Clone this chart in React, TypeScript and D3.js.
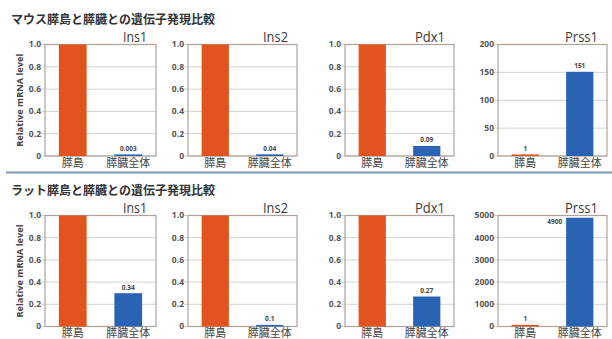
import React from "react";
import * as d3 from "d3";

const genes = ["Ins1", "Ins2", "Pdx1", "Prss1"];
const categories = ["膵島", "膵臓全体"];

const mouseTitle = "マウス膵島と膵臓との遺伝子発現比較";
const mouseIslet = [1, 1, 1, 1];
const mouseWhole = [0.003, 0.015, 0.09, 151];
const mouseIsletLabels = ["", "", "", "1"];
const mouseWholeLabels = ["0.003", "0.04", "0.09", "151"];
const mouseYMax = [1, 1, 1, 200];
const mouseTicks = [
  [0, 0.2, 0.4, 0.6, 0.8, 1.0],
  [0, 0.2, 0.4, 0.6, 0.8, 1.0],
  [0, 0.2, 0.4, 0.6, 0.8, 1.0],
  [0, 50, 100, 150, 200],
];

const ratTitle = "ラット膵島と膵臓との遺伝子発現比較";
const ratIslet = [1, 1, 1, 1];
const ratWhole = [0.3, 0.012, 0.27, 4900];
const ratIsletLabels = ["", "", "", "1"];
const ratWholeLabels = ["0.34", "0.1", "0.27", "4900"];
const ratYMax = [1, 1, 1, 5000];
const ratTicks = [
  [0, 0.2, 0.4, 0.6, 0.8, 1.0],
  [0, 0.2, 0.4, 0.6, 0.8, 1.0],
  [0, 0.2, 0.4, 0.6, 0.8, 1.0],
  [0, 1000, 2000, 3000, 4000, 5000],
];

const yAxisTitle = "Relative mRNA level";

// layout
const W = 612;
const H = 339;
const panelX = [
  [45, 156],
  [188, 297],
  [345, 454],
  [498, 607],
];
const RED = "#e1541f";
const BLUE = "#2a63b3";
const GRID = "#d9d2cc";
const BORDER = "#ada199";
const TEXT = "#3a3a3a";
const JP = "'Noto Sans CJK JP', 'Noto Sans', sans-serif";
const SANS = "'Open Sans', 'Noto Sans', sans-serif";
const geneTextLen = [24, 25, 30, 33];

function Panel({
  x0, x1, yTop, yBottom, islet, whole, isletLabel, wholeLabel, yMax, ticks, gene, geneLen, showYTitle,
}: any) {
  const x = d3.scaleBand<string>().domain(categories).range([x0, x1]).paddingInner(0.5).paddingOuter(0.25);
  const y = d3.scaleLinear().domain([0, yMax]).range([yBottom, yTop]);
  const isDecimal = yMax <= 1;
  const fmt = (t: number) => (isDecimal ? (t === 0 ? "0" : d3.format(".1f")(t)) : String(t));
  const vals = [islet, whole];
  const labs = [isletLabel, wholeLabel];
  const colors = [RED, BLUE];
  const minH = 1.6;
  return (
    <g>
      {ticks.map((t: number, i: number) => (
        <g key={i}>
          <line x1={x0 - 4} x2={x1} y1={y(t)} y2={y(t)} stroke={GRID} strokeWidth={1} />
          <text x={x0 - 4} y={y(t)} dy="0.35em" textAnchor="end" fontFamily={SANS} fontWeight={700} fontSize={8.5} fill="#555">
            {fmt(t)}
          </text>
        </g>
      ))}
      <rect x={x0} y={yTop} width={x1 - x0} height={yBottom - yTop} fill="none" stroke={BORDER} strokeWidth={1.2} />
      {categories.map((c, i) => {
        const v = vals[i];
        const top = Math.min(y(v), yBottom - minH);
        const bx = x(c)!;
        const bw = x.bandwidth();
        const lab = labs[i];
        const placeLeft = top - yTop < 8;
        return (
          <g key={c}>
            <rect x={bx} y={top} width={bw} height={yBottom - top} fill={colors[i]} />
            {lab && (
              placeLeft ? (
                <text x={bx - 4} y={top + 6} textAnchor="end" fontFamily={SANS} fontWeight={700} fontSize={6.5} fill="#444">{lab}</text>
              ) : (
                <text x={bx + bw / 2} y={top - 3.5} textAnchor="middle" fontFamily={SANS} fontWeight={700} fontSize={6.5} fill="#444">{lab}</text>
              )
            )}
            <text x={bx + bw / 2} y={yBottom + 10.5} textAnchor="middle" fontFamily={JP} fontSize={11} fill="#444">{c}</text>
          </g>
        );
      })}
      <text x={x1 - 9} y={yTop - 3} textAnchor="end" fontFamily={SANS} fontSize={15} fill={TEXT} textLength={geneLen} lengthAdjust="spacingAndGlyphs">
        {gene}
      </text>
      {showYTitle && (
        <text transform={`translate(${x0 - 22},${(yTop + yBottom) / 2}) rotate(-90)`} textAnchor="middle" fontFamily={SANS} fontWeight={700} fontSize={8.5} fill="#444" textLength={93} lengthAdjust="spacingAndGlyphs">
          {yAxisTitle}
        </text>
      )}
    </g>
  );
}

function Row({ title, titleY, yTop, yBottom, islet, whole, isletLabels, wholeLabels, yMaxs, ticks }: any) {
  return (
    <g>
      <text x={11} y={titleY} fontFamily={JP} fontWeight={700} fontSize={12} fill="#333">{title}</text>
      {genes.map((g, i) => (
        <Panel
          key={g}
          x0={panelX[i][0]}
          x1={panelX[i][1]}
          yTop={yTop}
          yBottom={yBottom}
          islet={islet[i]}
          whole={whole[i]}
          isletLabel={isletLabels[i]}
          wholeLabel={wholeLabels[i]}
          yMax={yMaxs[i]}
          ticks={ticks[i]}
          gene={g}
          geneLen={geneTextLen[i]}
          showYTitle={i === 0}
        />
      ))}
    </g>
  );
}

export default function App() {
  return (
    <svg width={W} height={H} style={{ position: "absolute", left: 0, top: 0, background: "#fff" }}>
      <rect width={W} height={H} fill="#fff" />
      <Row
        title={mouseTitle}
        titleY={24}
        yTop={44.5}
        yBottom={156}
        islet={mouseIslet}
        whole={mouseWhole}
        isletLabels={mouseIsletLabels}
        wholeLabels={mouseWholeLabels}
        yMaxs={mouseYMax}
        ticks={mouseTicks}
      />
      <line x1={6} x2={W} y1={172.5} y2={172.5} stroke="#7f97bb" strokeWidth={2} />
      <Row
        title={ratTitle}
        titleY={195}
        yTop={215.5}
        yBottom={326.5}
        islet={ratIslet}
        whole={ratWhole}
        isletLabels={ratIsletLabels}
        wholeLabels={ratWholeLabels}
        yMaxs={ratYMax}
        ticks={ratTicks}
      />
    </svg>
  );
}
